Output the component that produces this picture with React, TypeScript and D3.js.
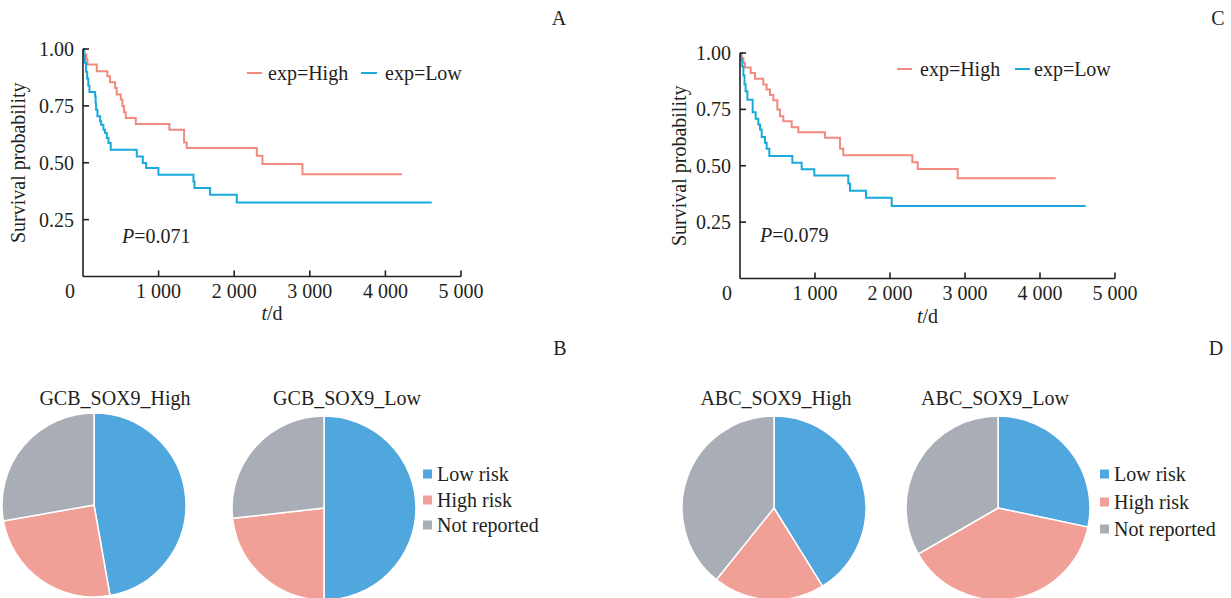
import React from "react";
import * as d3 from "d3";

// Kaplan-Meier steps: [time (d), survival]
const kmA_high: [number, number][] = [
  [0, 1], [20, 0.977], [45, 0.955], [59, 0.932], [182, 0.902], [323, 0.88], [358, 0.854],
  [425, 0.829], [446, 0.8], [500, 0.778], [521, 0.748], [544, 0.722], [566, 0.697],
  [698, 0.67], [1143, 0.645], [1337, 0.589], [1372, 0.565], [2299, 0.531], [2374, 0.494],
  [2903, 0.45], [4218, 0.45],
];
const kmA_low: [number, number][] = [
  [0, 1], [10, 0.97], [25, 0.94], [40, 0.9], [55, 0.87], [70, 0.84], [85, 0.811],
  [160, 0.792], [167, 0.76], [173, 0.733], [191, 0.704], [226, 0.682], [240, 0.667],
  [270, 0.645], [292, 0.631], [315, 0.609], [337, 0.587], [367, 0.557], [711, 0.528],
  [791, 0.499], [835, 0.477], [998, 0.447], [1461, 0.418], [1474, 0.389], [1681, 0.359],
  [2034, 0.325], [4613, 0.325],
];
const kmC_high: [number, number][] = [
  [0, 1], [20, 0.978], [45, 0.957], [67, 0.936], [142, 0.911], [200, 0.886], [311, 0.86],
  [355, 0.838], [400, 0.814], [444, 0.79], [498, 0.749], [533, 0.72], [578, 0.697],
  [689, 0.671], [778, 0.649], [1133, 0.624], [1333, 0.575], [1378, 0.547], [2298, 0.516],
  [2369, 0.486], [2902, 0.445], [4209, 0.445],
];
const kmC_low: [number, number][] = [
  [0, 1], [15, 0.97], [30, 0.94], [45, 0.9], [60, 0.86], [75, 0.83], [98, 0.793],
  [169, 0.737], [209, 0.708], [244, 0.683], [267, 0.661], [289, 0.628], [333, 0.602],
  [355, 0.575], [391, 0.543], [698, 0.513], [822, 0.484], [991, 0.457], [1444, 0.421],
  [1467, 0.389], [1680, 0.358], [2022, 0.321], [4609, 0.321],
];

const xTicks = [1000, 2000, 3000, 4000, 5000];
const yTicks = [0.25, 0.5, 0.75, 1.0];
const seriesNames = ["exp=High", "exp=Low"];

const riskCats = ["Low risk", "High risk", "Not reported"];
const gcbHigh = [17, 9, 10];
const gcbLow = [28, 13, 15];
const abcHigh = [21, 10, 20];
const abcLow = [17, 23, 20];

const RED = "#f28a80";
const BLUE = "#19a9dc";
const pieColors = ["#4fa7dd", "#f0a096", "#a9aeb6"];
const FONT = "'Liberation Serif', 'Times New Roman', serif";

const fmt = (v: number) => d3.format(",")(v).replace(",", " ");

function KM({ x0, x1, y0, y1, high, low, p, leg, yLabelX, titleY, tickY }: any) {
  const x = d3.scaleLinear().domain([0, 5000]).range([x0, x1]);
  const y = d3.scaleLinear().domain([0, 1]).range([y0, y1]);
  const line = d3
    .line<[number, number]>()
    .x((d) => x(d[0]))
    .y((d) => y(d[1]))
    .curve(d3.curveStepAfter);
  return (
    <g fontFamily={FONT} fontSize={20} fill="#231f20">
      <path d={line(high) || ""} fill="none" stroke={RED} strokeWidth={2} />
      <path d={line(low) || ""} fill="none" stroke={BLUE} strokeWidth={2} />
      <line x1={x0} x2={x0} y1={y0} y2={y(1)} stroke="#231f20" strokeWidth={1.6} />
      <line x1={x0} x2={x(5000)} y1={y0} y2={y0} stroke="#231f20" strokeWidth={1.6} />
      {yTicks.map((t) => (
        <g key={t}>
          <line x1={x0} x2={x0 + 6} y1={y(t)} y2={y(t)} stroke="#231f20" strokeWidth={1.6} />
          <text x={x0 - 9} y={y(t)} dy="0.35em" textAnchor="end">
            {t.toFixed(2)}
          </text>
        </g>
      ))}
      {xTicks.map((t) => (
        <g key={t}>
          <line x1={x(t)} x2={x(t)} y1={y0} y2={y0 - 6} stroke="#231f20" strokeWidth={1.6} />
          <text x={x(t)} y={tickY} textAnchor="middle">
            {fmt(t)}
          </text>
        </g>
      ))}
      <text x={x0 - 13} y={tickY} textAnchor="middle">0</text>
      <text x={x(2500)} y={titleY} textAnchor="middle">
        <tspan fontStyle="italic">t</tspan>/d
      </text>
      <text transform={`translate(${yLabelX},${(y0 + y(1)) / 2}) rotate(-90)`} textAnchor="middle">
        Survival probability
      </text>
      <text x={p.x} y={p.y}>
        <tspan fontStyle="italic">P</tspan>={p.v}
      </text>
      <line x1={leg.r1} x2={leg.r2} y1={leg.y} y2={leg.y} stroke={RED} strokeWidth={2} />
      <text x={leg.rt} y={leg.y} dy="0.33em">{seriesNames[0]}</text>
      <line x1={leg.b1} x2={leg.b2} y1={leg.y} y2={leg.y} stroke={BLUE} strokeWidth={2} />
      <text x={leg.bt} y={leg.y} dy="0.33em">{seriesNames[1]}</text>
    </g>
  );
}

function Pie({ cx, cy, values, title, tx, ty }: any) {
  const arcs = d3.pie<number>().sort(null)(values);
  const arc = d3.arc<d3.PieArcDatum<number>>().innerRadius(0).outerRadius(92);
  return (
    <g>
      <g transform={`translate(${cx},${cy})`}>
        {arcs.map((a, i) => (
          <path key={i} d={arc(a) || ""} fill={pieColors[i]} stroke="#fff" strokeWidth={1.5} />
        ))}
      </g>
      <text x={tx} y={ty} textAnchor="middle" fontFamily={FONT} fontSize={20} fill="#231f20">
        {title}
      </text>
    </g>
  );
}

function Legend({ x, ys }: any) {
  return (
    <g fontFamily={FONT} fontSize={20} fill="#231f20">
      {riskCats.map((c, i) => (
        <g key={c}>
          <rect x={x} y={ys[i] - 4.5} width={9} height={9} fill={pieColors[i]} />
          <text x={x + 14} y={ys[i]} dy="0.35em">{c}</text>
        </g>
      ))}
    </g>
  );
}

export default function App() {
  return (
    <svg
      width={1231}
      height={598}
      style={{ position: "absolute", left: 0, top: 0, background: "#fff" }}
    >
      <g fontFamily={FONT} fontSize={20} fill="#231f20">
        <text x={559} y={25} textAnchor="middle">A</text>
        <text x={1218} y={25} textAnchor="middle">C</text>
        <text x={560} y={355} textAnchor="middle">B</text>
        <text x={1216} y={355} textAnchor="middle">D</text>
      </g>
      <KM
        x0={83} x1={461} y0={276.5} y1={49}
        high={kmA_high} low={kmA_low}
        p={{ x: 122, y: 243, v: "0.071" }}
        leg={{ y: 73, r1: 247, r2: 262, rt: 268, b1: 361, b2: 377, bt: 385 }}
        yLabelX={25} tickY={298} titleY={320}
      />
      <KM
        x0={740} x1={1115} y0={278.5} y1={53}
        high={kmC_high} low={kmC_low}
        p={{ x: 760, y: 242, v: "0.079" }}
        leg={{ y: 69, r1: 897, r2: 912, rt: 920, b1: 1015, b2: 1030, bt: 1034 }}
        yLabelX={686} tickY={300} titleY={323}
      />
      <Pie cx={94} cy={505} values={gcbHigh} title="GCB_SOX9_High" tx={115} ty={405} />
      <Pie cx={324} cy={508} values={gcbLow} title="GCB_SOX9_Low" tx={347} ty={405} />
      <Legend x={423} ys={[474, 500, 525]} />
      <Pie cx={774} cy={508} values={abcHigh} title="ABC_SOX9_High" tx={776} ty={405} />
      <Pie cx={998} cy={508} values={abcLow} title="ABC_SOX9_Low" tx={995} ty={405} />
      <Legend x={1100} ys={[474, 502, 529]} />
    </svg>
  );
}
